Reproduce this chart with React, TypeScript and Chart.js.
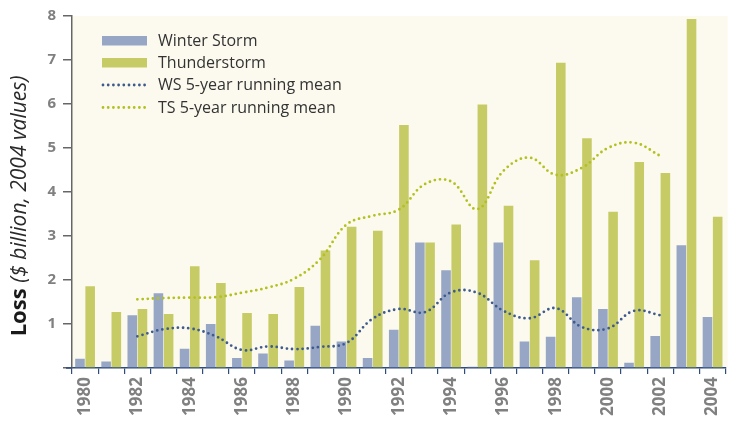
import React, { useEffect, useRef } from "react";
import { Chart, registerables } from "chart.js";

Chart.register(...registerables);

const years = ["1980","1981","1982","1983","1984","1985","1986","1987","1988","1989","1990","1991","1992","1993","1994","1995","1996","1997","1998","1999","2000","2001","2002","2003","2004"];
const winterStorm = [0.21,0.15,1.2,1.7,0.44,1.0,0.23,0.33,0.17,0.96,0.6,0.23,0.87,2.85,2.22,0.03,2.85,0.6,0.71,1.61,1.34,0.12,0.73,2.79,1.16];
const thunderstorm = [1.86,1.27,1.34,1.23,2.31,1.93,1.25,1.23,1.84,2.67,3.21,3.12,5.52,2.85,3.26,5.99,3.69,2.45,6.94,5.22,3.55,4.68,4.43,7.93,3.44];
const wsMean = [null,null,0.72,0.88,0.9,0.72,0.41,0.49,0.43,0.48,0.57,1.12,1.34,1.27,1.72,1.71,1.3,1.13,1.36,0.93,0.9,1.3,1.2,null,null];
const tsMean = [null,null,1.56,1.59,1.6,1.61,1.71,1.83,2.03,2.48,3.26,3.46,3.6,4.18,4.24,3.61,4.48,4.78,4.39,4.55,5.0,5.12,4.82,null,null];
const legendLabels = ["Winter Storm","Thunderstorm","WS 5-year running mean","TS 5-year running mean"];

const WS_BAR = "#97A6C5";
const TS_BAR = "#C6CB65";
const WS_LINE = "#3F5B8E";
const TS_LINE = "#B3C01F";
const AXIS_BLUE = "#2E4C7C";
const FONT = "'Open Sans', 'Noto Sans', sans-serif";

const bgPlugin = {
  id: "bgPlugin",
  beforeDraw(chart: any) {
    const { ctx, chartArea } = chart;
    ctx.save();
    ctx.fillStyle = "#FCFAEE";
    ctx.fillRect(chartArea.left, chartArea.top, chartArea.right - chartArea.left + 2, chartArea.bottom - chartArea.top);
    ctx.restore();
  },
};

const overlayPlugin = {
  id: "overlayPlugin",
  afterDraw(chart: any) {
    const { ctx, chartArea } = chart;
    // small extension of the x axis line to the left of the y axis
    ctx.save();
    ctx.strokeStyle = AXIS_BLUE;
    ctx.lineWidth = 1.5;
    ctx.beginPath();
    ctx.moveTo(chartArea.left - 6, chartArea.bottom);
    ctx.lineTo(chartArea.left, chartArea.bottom);
    ctx.stroke();
    ctx.restore();

    // legend
    ctx.save();
    const rows = [40.5, 62.5, 85, 107.5];
    const kinds = ["bar", "bar", "line", "line"];
    const colors = [WS_BAR, TS_BAR, WS_LINE, TS_LINE];
    ctx.font = `16px ${FONT}`;
    ctx.textBaseline = "middle";
    for (let i = 0; i < 4; i++) {
      const y = rows[i];
      if (kinds[i] === "bar") {
        ctx.fillStyle = colors[i];
        ctx.fillRect(102, y - 4.5, 45, 9.5);
      } else {
        ctx.strokeStyle = colors[i];
        ctx.lineWidth = 2.8;
        ctx.lineCap = "round";
        ctx.setLineDash([0, 5.2]);
        ctx.beginPath();
        ctx.moveTo(103, y);
        ctx.lineTo(147, y);
        ctx.stroke();
        ctx.setLineDash([]);
      }
      ctx.fillStyle = "#333333";
      ctx.fillText(legendLabels[i], 158, y + 0.5);
    }
    ctx.restore();

    // y-axis title
    ctx.save();
    ctx.translate(20, 206);
    ctx.rotate(-Math.PI / 2);
    const boldPart = "Loss ";
    const italPart = "($ billion, 2004 values)";
    const boldFont = `bold 22px ${FONT}`;
    const italFont = `italic 21px ${FONT}`;
    ctx.font = boldFont;
    const w1 = ctx.measureText(boldPart).width;
    ctx.font = italFont;
    const w2 = ctx.measureText(italPart).width;
    const start = -(w1 + w2) / 2;
    ctx.textBaseline = "middle";
    ctx.textAlign = "left";
    ctx.font = boldFont;
    ctx.fillStyle = "#1a1a1a";
    ctx.fillText(boldPart, start, 0);
    ctx.font = italFont;
    ctx.fillStyle = "#2a2a2a";
    ctx.fillText(italPart, start + w1, 0);
    ctx.restore();
  },
};

export default function App() {
  const ref = useRef<HTMLCanvasElement>(null);
  useEffect(() => {
    if (!ref.current) return;
    const chart = new Chart(ref.current, {
      type: "bar",
      data: {
        labels: years,
        datasets: [
          { type: "line", label: legendLabels[2], data: wsMean as any, borderColor: WS_LINE, borderWidth: 2.8, borderDash: [0, 5.2], borderCapStyle: "round", pointRadius: 0, tension: 0.4, order: 0, fill: false } as any,
          { type: "line", label: legendLabels[3], data: tsMean as any, borderColor: TS_LINE, borderWidth: 2.8, borderDash: [0, 5.2], borderCapStyle: "round", pointRadius: 0, tension: 0.4, order: 0, fill: false } as any,
          { type: "bar", label: legendLabels[0], data: winterStorm, backgroundColor: WS_BAR, categoryPercentage: 0.78, barPercentage: 0.94, order: 1 },
          { type: "bar", label: legendLabels[1], data: thunderstorm, backgroundColor: TS_BAR, categoryPercentage: 0.78, barPercentage: 0.94, order: 1 },
        ],
      },
      options: {
        responsive: false,
        animation: false,
        layout: { padding: { top: 14, right: 1, left: 0, bottom: 0 } },
        plugins: { legend: { display: false }, tooltip: { enabled: false } },
        scales: {
          x: {
            offset: true,
            afterFit(scale: any) { scale.height = 54; },
            grid: { offset: true, drawOnChartArea: false, drawTicks: true, tickLength: 6, color: AXIS_BLUE, lineWidth: 1.2 },
            border: { color: AXIS_BLUE, width: 1.5 },
            ticks: {
              autoSkip: false,
              maxRotation: 90,
              minRotation: 90,
              padding: 3,
              color: "#808080",
              font: { family: FONT, size: 17, weight: "bold" },
              callback: (v: any, i: number) => (i % 2 === 0 ? years[i] : ""),
            },
          },
          y: {
            min: 0,
            max: 8,
            afterFit(scale: any) { scale.width = 72; },
            grid: { drawOnChartArea: false, drawTicks: true, tickLength: 9, color: "#666666", lineWidth: 1.5 },
            border: { color: "#666666", width: 1.5 },
            ticks: {
              stepSize: 1,
              padding: 7,
              color: "#808080",
              font: { family: FONT, size: 15, weight: "bold" },
              callback: (v: any) => (v === 0 ? "" : String(v)),
            },
          },
        },
      },
      plugins: [bgPlugin, overlayPlugin],
    });
    return () => chart.destroy();
  }, []);
  return (
    <div style={{ position: "fixed", left: 0, top: 0, width: 736, height: 422, background: "#fff" }}>
      <canvas ref={ref} width={736} height={422} style={{ width: 736, height: 422 }} />
    </div>
  );
}
